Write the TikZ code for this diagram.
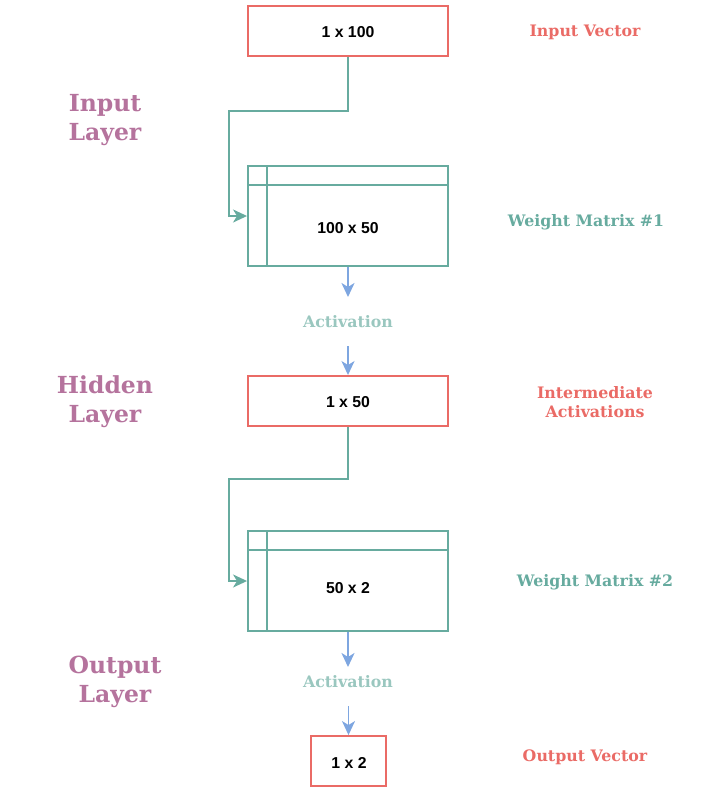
\documentclass[tikz,border=0pt]{standalone}
\usepackage{fontspec}
\setmainfont{DejaVu Serif}
\newfontfamily\boxfont{Liberation Sans}
\usetikzlibrary{arrows.meta}
\definecolor{cred}{HTML}{EA6B66}
\definecolor{cteal}{HTML}{67AB9F}
\definecolor{cblue}{HTML}{7EA6E0}
\definecolor{cpurple}{HTML}{B5739D}
\definecolor{cact}{HTML}{9AC7BF}
\begin{document}
\begin{tikzpicture}[x=1pt,y=-1pt,
  vecbox/.style={draw=cred,line width=1.9pt,fill=white,minimum height=50pt,inner sep=0pt},
  matbox/.style={draw=cteal,line width=1.9pt,fill=white,minimum width=200pt,minimum height=100pt,inner sep=0pt},
  boxtext/.style={font=\boxfont\bfseries\fontsize{15.8}{18}\selectfont},
  lbl/.style={font=\bfseries\fontsize{15.8}{19}\selectfont,align=center},
  biglbl/.style={font=\bfseries\fontsize{23.5}{29}\selectfont,align=center,text=cpurple},
  tealarrow/.style={draw=cteal,line width=1.9pt,-{Stealth[length=14pt,width=13pt,inset=4pt]}},
  bluearrow/.style={draw=cblue,line width=1.9pt,-{Stealth[length=14pt,width=13pt,inset=4pt]}}]
\useasboundingbox (0,0) rectangle (702,793);
% boxes
\node[vecbox,minimum width=200pt] (in) at (348,31) {};
\node[boxtext] (int) at (348,32.5) {1 x 100};
\node[matbox] (w1) at (348,216) {};
\node[boxtext] (w1t) at (348,228) {100 x 50};
\draw[cteal,line width=1.9pt] ([xshift=20pt]w1.north west) -- ([xshift=20pt]w1.south west);
\draw[cteal,line width=1.9pt] ([yshift=-20pt]w1.north west) -- ([yshift=-20pt]w1.north east);
\node[lbl,text=cact] (act1) at (348,322) {Activation};
\node[vecbox,minimum width=200pt] (hid) at (348,401) {};
\node[boxtext] (hidt) at (348,402.5) {1 x 50};
\node[matbox] (w2) at (348,581) {};
\node[boxtext] (w2t) at (348,588) {50 x 2};
\draw[cteal,line width=1.9pt] ([xshift=20pt]w2.north west) -- ([xshift=20pt]w2.south west);
\draw[cteal,line width=1.9pt] ([yshift=-20pt]w2.north west) -- ([yshift=-20pt]w2.north east);
\node[lbl,text=cact] (act2) at (348,682) {Activation};
\node[vecbox,minimum width=75pt] (out) at (348.5,761) {};
\node[boxtext] (outt) at (349,762.5) {1 x 2};
% connectors
\coordinate (c1) at (348,111);
\coordinate (c2) at (229,111);
\coordinate (c3) at (229,216);
\draw[tealarrow] (in.south) -- (c1) -- (c2) -- (c3) -- (w1.west);
\coordinate (d1) at (348,479);
\coordinate (d2) at (229,479);
\coordinate (d3) at (229,581);
\draw[tealarrow] (hid.south) -- (d1) -- (d2) -- (d3) -- (w2.west);
\coordinate (a1e) at (348,297);
\coordinate (a2s) at (348,346);
\coordinate (a3e) at (348,667);
\coordinate (a4s) at (348.5,706);
\draw[bluearrow] (w1.south) -- (a1e);
\draw[bluearrow] (a2s) -- (hid.north);
\draw[bluearrow] (w2.south) -- (a3e);
\draw[bluearrow] (a4s) -- (out.north);
% labels
\node[lbl,text=cred] (l1) at (585,32) {Input Vector};
\node[lbl,text=cteal] (l2) at (586,222) {Weight Matrix \#1};
\node[lbl,text=cred] (l3) at (595,402) {Intermediate\\Activations};
\node[lbl,text=cteal] (l4) at (595,582) {Weight Matrix \#2};
\node[lbl,text=cred] (l5) at (585,757) {Output Vector};
\node[biglbl] (b1) at (105,120) {Input\\Layer};
\node[biglbl] (b2) at (105,402) {Hidden\\Layer};
\node[biglbl] (b3) at (115,682) {Output\\Layer};
\end{tikzpicture}
\end{document}
